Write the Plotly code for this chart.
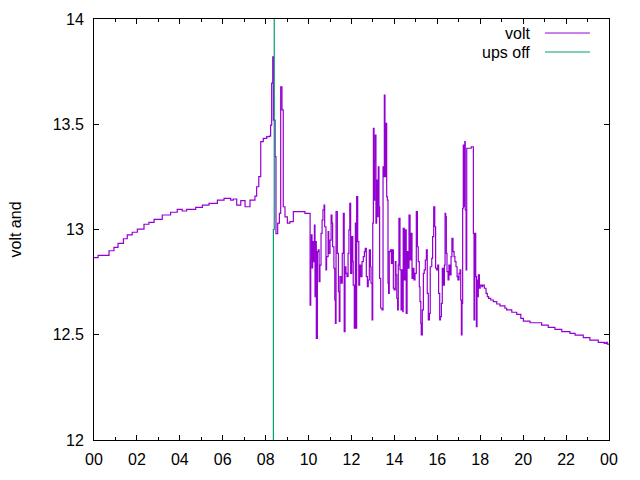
import plotly.graph_objects as go

# volt series: time of day (hours) and battery voltage
volt_hours = [
    0.00, 0.19, 0.55, 0.70, 0.93, 1.12, 1.37, 1.55, 1.78, 2.02, 2.33, 2.56, 2.80, 3.18, 3.57,
    3.88, 4.11, 4.32, 4.74, 5.05, 5.36, 5.75, 6.06, 6.34, 6.37, 6.49, 6.65, 6.84, 7.04, 7.27,
    7.50, 7.58, 7.68, 7.77, 7.89, 8.05, 8.17, 8.23, 8.28, 8.33, 8.36, 8.44, 8.48, 8.56, 8.64,
    8.70, 8.76, 8.82, 8.90, 9.01, 9.13, 9.29, 9.75, 9.83,
    10.03, 10.07, 10.10, 10.13, 10.16, 10.19, 10.22, 10.27, 10.30, 10.33, 10.36, 10.41, 10.45,
    10.49, 10.53, 10.58, 10.63, 10.67, 10.72, 10.75, 10.81, 10.84, 10.91, 10.94, 11.00, 11.05,
    11.09, 11.12, 11.18, 11.22, 11.25, 11.28, 11.34, 11.39, 11.43, 11.46, 11.52, 11.57, 11.62,
    11.66, 11.70, 11.74, 11.79, 11.84, 11.88, 11.92, 11.96, 12.01, 12.06, 12.08, 12.13, 12.18,
    12.21, 12.24, 12.29, 12.34, 12.38, 12.43, 12.49, 12.55, 12.60, 12.64, 12.69, 12.74, 12.78,
    12.83, 12.88, 12.91, 12.96, 12.99, 13.02, 13.05, 13.08, 13.11, 13.14, 13.17, 13.20, 13.25,
    13.28, 13.31, 13.36, 13.42, 13.47, 13.50, 13.53, 13.56, 13.61, 13.64, 13.67, 13.70, 13.73,
    13.76, 13.81, 13.86, 13.90, 13.95, 13.99, 14.04, 14.07, 14.11, 14.15, 14.18, 14.21, 14.26,
    14.31, 14.34, 14.39, 14.41, 14.46, 14.51, 14.55, 14.59, 14.63, 14.68, 14.73, 14.77, 14.82,
    14.87, 14.91, 14.96, 15.02, 15.07, 15.11, 15.16, 15.19, 15.23, 15.25, 15.30, 15.35, 15.39,
    15.44, 15.49, 15.53, 15.58, 15.63, 15.67, 15.74, 15.78, 15.83, 15.88, 15.92, 15.97, 16.02,
    16.06, 16.11, 16.14, 16.19, 16.23, 16.28, 16.33, 16.36, 16.39, 16.42, 16.45, 16.50, 16.54,
    16.59, 16.64, 16.68, 16.73, 16.78, 16.82, 16.87, 16.92, 16.96, 17.01, 17.06, 17.09, 17.12,
    17.15, 17.18, 17.21, 17.24, 17.28, 17.30, 17.34, 17.37, 17.52, 17.58, 17.65, 17.68, 17.71,
    17.74, 17.79, 17.82, 17.85, 17.88, 17.91, 17.96, 18.00, 18.07, 18.11, 18.19, 18.27, 18.33,
    18.39, 18.49, 18.61, 18.77, 18.92, 19.15, 19.23, 19.47, 19.70, 19.89, 20.01, 20.32, 20.86,
    21.17, 21.48, 21.80, 22.18, 22.42, 22.80, 23.11, 23.50, 23.78, 23.86, 23.92, 24.00,
]
volt_values = [
    12.866, 12.877, 12.877, 12.899, 12.915, 12.934, 12.956, 12.974, 12.987, 13.002, 13.025,
    13.034, 13.048, 13.069, 13.082, 13.096, 13.088, 13.096, 13.105, 13.116, 13.124, 13.140,
    13.148, 13.148, 13.140, 13.145, 13.116, 13.137, 13.108, 13.140, 13.159, 13.203, 13.251,
    13.417, 13.433, 13.441, 13.444, 13.496, 13.695, 13.820, 13.520, 13.346, 12.980, 13.030,
    13.077, 13.678, 13.568, 13.108, 13.060, 13.030, 13.037, 13.085, 13.085, 13.077,
    13.077, 12.641, 12.855, 12.974, 12.817, 12.942, 12.847, 13.021, 12.681, 12.942, 12.483,
    12.895, 12.903, 12.752, 12.831, 12.982, 13.045, 13.093, 13.116, 13.013, 12.808, 12.871,
    12.990, 12.887, 12.950, 13.069, 13.030, 12.918, 12.816, 12.665, 12.554, 13.085, 12.887,
    12.705, 12.563, 12.776, 12.745, 12.887, 13.077, 12.515, 12.823, 12.792, 12.776, 12.887,
    12.998, 13.124, 12.792, 12.966, 12.847, 12.736, 12.531, 13.030, 12.531, 13.156, 12.942,
    12.736, 12.831, 12.776, 12.847, 12.871, 12.895, 12.911, 12.776, 12.728, 12.760, 12.903,
    12.823, 12.745, 12.570, 13.030, 13.481, 13.140, 13.330, 13.449, 13.030, 13.235, 13.061,
    13.298, 13.108, 12.768, 12.626, 12.618, 13.298, 13.251, 13.639, 13.251, 13.504, 13.156,
    13.140, 12.745, 12.697, 12.895, 12.903, 12.839, 12.903, 12.721, 12.713, 12.847, 12.784,
    12.673, 12.618, 12.831, 13.053, 12.808, 12.618, 12.808, 12.610, 13.006, 12.760, 12.998,
    12.602, 12.895, 12.816, 13.069, 12.855, 12.982, 12.768, 12.816, 12.760, 12.792, 13.085,
    12.918, 12.847, 12.728, 12.657, 12.554, 12.499, 12.618, 12.792, 12.808, 12.855, 12.903,
    12.697, 12.570, 12.602, 12.823, 12.863, 12.966, 13.108, 13.013, 12.816, 12.808, 12.831,
    12.697, 12.570, 12.586, 12.649, 12.816, 12.736, 12.831, 13.077, 13.061, 12.887, 12.800,
    12.760, 12.831, 12.784, 12.871, 12.958, 12.895, 12.871, 12.847, 12.823, 12.776, 12.760,
    12.792, 12.808, 12.665, 12.499, 12.649, 13.101, 13.401, 13.108, 13.417, 13.093, 12.808,
    13.386, 13.386, 13.393, 13.393, 12.982, 12.570, 12.982, 12.776, 12.538, 12.760, 12.681,
    12.784, 12.721, 12.736, 12.728, 12.736, 12.721, 12.697, 12.681, 12.673, 12.665, 12.657,
    12.646, 12.637, 12.626, 12.618, 12.607, 12.597, 12.578, 12.565, 12.557, 12.546, 12.535,
    12.526, 12.515, 12.507, 12.498, 12.486, 12.474, 12.464, 12.459, 12.464, 12.455, 12.455,
]

# ups off series
ups_hours = [8.36, 8.36, 8.40, 8.40]
ups_values = [0.0, 13.0, 13.0, 20.0]

tick_hours = list(range(0, 25, 2))
tick_labels = ["00", "02", "04", "06", "08", "10", "12", "14", "16", "18", "20", "22", "00"]

VIOLET = "#9400d3"
GREEN = "#009e73"
FONT = "Liberation Sans, Arial, sans-serif"

fig = go.Figure()
fig.add_trace(go.Scatter(x=volt_hours, y=volt_values, mode="lines", name="volt",
                         line=dict(color=VIOLET, width=1.2, shape="hv")))
fig.add_trace(go.Scatter(x=ups_hours, y=ups_values, mode="lines", name="ups off",
                         line=dict(color=GREEN, width=1.2)))

axis_common = dict(showline=True, linecolor="black", linewidth=1, mirror="allticks",
                   ticks="inside", ticklen=5, tickcolor="black", showgrid=False,
                   zeroline=False, automargin=False,
                   tickfont=dict(family=FONT, size=16, color="black"))

fig.update_xaxes(range=[0, 24], tickvals=tick_hours, ticktext=tick_labels,
                 ticklabelstandoff=5,
                 minor=dict(dtick=1, ticks="inside", ticklen=3, tickcolor="black", showgrid=False),
                 **axis_common)
fig.update_yaxes(range=[12, 14], dtick=0.5, ticklabelstandoff=6, **axis_common)

fig.update_layout(
    width=640, height=480, showlegend=False,
    margin=dict(l=94, r=31, t=19, b=40),
    paper_bgcolor="white", plot_bgcolor="white",
    annotations=[
        dict(text="volt and", xref="paper", yref="paper", x=-0.1515, y=0.5, textangle=-90,
             showarrow=False, font=dict(family=FONT, size=16, color="black"),
             xanchor="center", yanchor="middle"),
        dict(text="volt", xref="paper", yref="paper", x=0.850, y=0.9667, showarrow=False,
             xanchor="right", yanchor="middle", font=dict(family=FONT, size=16, color="black")),
        dict(text="ups off", xref="paper", yref="paper", x=0.850, y=0.9216, showarrow=False,
             xanchor="right", yanchor="middle", font=dict(family=FONT, size=16, color="black")),
    ],
    shapes=[
        dict(type="line", xref="paper", yref="paper", x0=0.8757, x1=0.963, y0=0.9667, y1=0.9667,
             line=dict(color=VIOLET, width=1)),
        dict(type="line", xref="paper", yref="paper", x0=0.8757, x1=0.963, y0=0.9216, y1=0.9216,
             line=dict(color=GREEN, width=1)),
    ],
)

fig.write_html("out.html")
